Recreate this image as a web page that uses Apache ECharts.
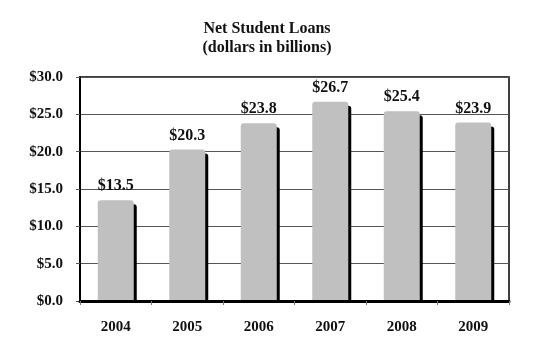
<!DOCTYPE html>
<html><head><meta charset="utf-8">
<script src="https://cdn.jsdelivr.net/npm/echarts@6/dist/echarts.min.js"></script>
<style>html,body{margin:0;padding:0;background:#fff}#c{width:556px;height:363px}</style>
</head><body><div id="c"></div>
<script>
const categories = ['2004','2005','2006','2007','2008','2009'];
const loans = [13.5, 20.3, 23.8, 26.7, 25.4, 23.9];
const yTicks = {min: 0, max: 30, interval: 5};
const titleLines = ['Net Student Loans', '(dollars in billions)'];

const FONT = '"Liberation Serif", "Times New Roman", serif';
const chart = echarts.init(document.getElementById('c'));
chart.setOption({
  animation: false,
  title: {
    text: titleLines.join('\n'),
    left: 262, top: 14, textAlign: 'center',
    textStyle: {fontFamily: FONT, fontWeight: 'bold', fontSize: 16, lineHeight: 19, color: '#111'}
  },
  grid: {left: 80, right: 47, top: 77, bottom: 62, show: true, borderColor: '#000', borderWidth: 1.5, backgroundColor: '#fff'},
  // white strip under the axis that hides the part of the bar shadows below zero
  graphic: [{type: 'rect', z: 4, shape: {x: 79, y: 302, width: 435, height: 8}, style: {fill: '#fff'}}],
  xAxis: {
    type: 'category', data: categories, z: 5,
    axisLine: {lineStyle: {color: '#000', width: 3}},
    axisTick: {show: true, length: 4, lineStyle: {color: '#777'}},
    axisLabel: {fontFamily: FONT, fontWeight: 'bold', fontSize: 15, color: '#111', margin: 19}
  },
  yAxis: {
    type: 'value', min: yTicks.min, max: yTicks.max, interval: yTicks.interval,
    axisLine: {show: true, lineStyle: {color: '#000', width: 2}},
    axisTick: {show: true, length: 4, lineStyle: {color: '#555'}},
    splitLine: {lineStyle: {color: '#555', width: 1}},
    axisLabel: {fontFamily: FONT, fontWeight: 'bold', fontSize: 15, color: '#111', margin: 17,
      formatter: v => '$' + v.toFixed(1)}
  },
  series: [{
    type: 'bar', data: loans, barWidth: 36, z: 2,
    itemStyle: {color: '#c0c0c0', borderRadius: [3,3,0,0], shadowColor: '#000', shadowOffsetX: 3, shadowOffsetY: 4, shadowBlur: 0},
    label: {show: true, position: 'top', distance: 6, fontFamily: FONT, fontWeight: 'bold', fontSize: 16, color: '#111',
      formatter: p => '$' + p.value.toFixed(1)}
  }]
});
</script></body></html>
